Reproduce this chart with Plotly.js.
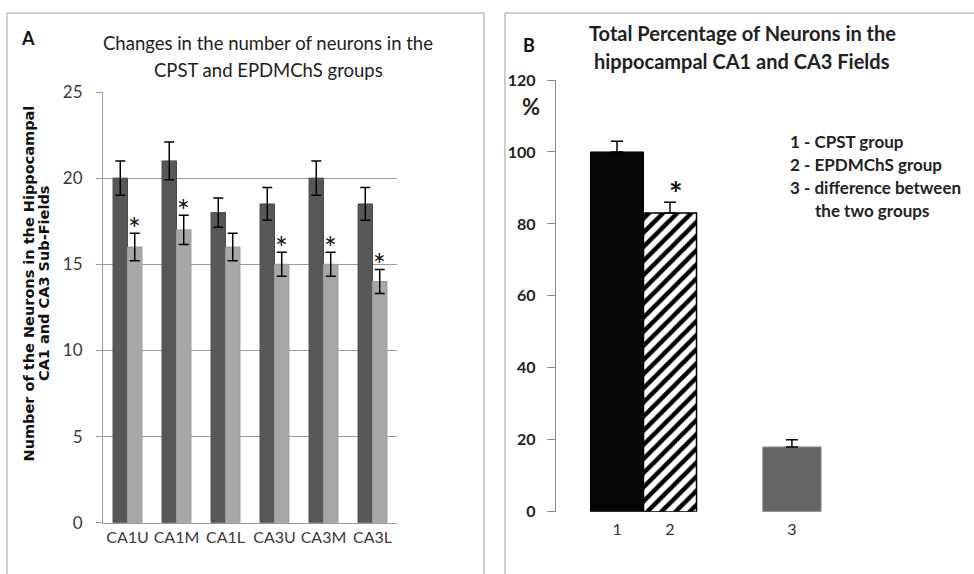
<!DOCTYPE html>
<html>
<head>
<meta charset="utf-8">
<script src="https://cdn.plot.ly/plotly-3.0.1.min.js"></script>
<style>html,body{margin:0;padding:0;background:#fff;}#chart{width:974px;height:574px;}</style>
</head>
<body>
<div id="chart"></div>
<script>
// ---- Panel A data ----
const fieldsA = ['CA1U', 'CA1M', 'CA1L', 'CA3U', 'CA3M', 'CA3L'];
const cpstA = [20, 21, 18, 18.5, 20, 18.5];
const cpstErrA = [1, 1.1, 0.85, 0.95, 1, 0.95];
const epdA = [16, 17, 16, 15, 15, 14];
const epdErrA = [0.8, 0.85, 0.8, 0.7, 0.7, 0.7];
const sigA = [true, true, false, true, true, true];
const titleA = ['Changes in the number of neurons in the', 'CPST and EPDMChS groups'];
const yTitleA = ['Number of the Neurons in the Hippocampal', 'CA1 and CA3 Sub-Fields'];

// ---- Panel B data ----
const labelsB = ['1', '2', '3'];
const valuesB = [100, 83, 18];
const errB = [3, 3, 2];
const sigB = [false, true, false];
const titleB = ['Total Percentage of Neurons in the', 'hippocampal CA1 and CA3 Fields'];
const legendB = ['1 - CPST group', '2 - EPDMChS group', '3 - difference between', 'the two groups'];

// ---- layout helpers (positions and styles, not data) ----
const W = 974, H = 574;
const px = v => v / W;
const py = v => (H - v) / H;
const slotB = [0, 1, 3.3];
const widthB = [1, 1, 1.1];
const styleB = [
  {color: '#070707', line: {color: '#000000', width: 1}},
  {color: '#ffffff', line: {color: '#000000', width: 1.5},
   pattern: {shape: '/', fgcolor: '#000000', bgcolor: '#ffffff', size: 10, solidity: 0.45, fillmode: 'replace'}},
  {color: '#646464', line: {color: '#8c8c8c', width: 1}}
];
const bargapA = 0.41;

const font = 'Lato, "Open Sans", "Noto Sans", sans-serif';
const wideFont = '"DejaVu Sans", Lato, sans-serif';

const traces = [
  {
    type: 'bar', x: fieldsA, y: cpstA, xaxis: 'x', yaxis: 'y', name: 'CPST',
    marker: {color: '#585858', line: {color: '#4a4a4a', width: 1}},
    error_y: {type: 'data', array: cpstErrA, visible: true, color: '#000', thickness: 1.5, width: 5},
    showlegend: false
  },
  {
    type: 'bar', x: fieldsA, y: epdA, xaxis: 'x', yaxis: 'y', name: 'EPDMChS',
    marker: {color: '#a7a7a7', line: {color: '#9a9a9a', width: 1}},
    error_y: {type: 'data', array: epdErrA, visible: true, color: '#000', thickness: 1.5, width: 5},
    showlegend: false
  }
];
labelsB.forEach((l, i) => {
  traces.push({
    type: 'bar', x: [slotB[i]], y: [valuesB[i]], width: [widthB[i]], offset: [-widthB[i] / 2],
    xaxis: 'x2', yaxis: 'y2', name: l, marker: styleB[i],
    error_y: {type: 'data', symmetric: false, array: [errB[i]], arrayminus: [0], visible: true,
      color: '#000', thickness: 1.5, width: 6},
    showlegend: false
  });
});

const annotations = [];
const ann = (o) => annotations.push(Object.assign({showarrow: false, xanchor: 'center', yanchor: 'middle'}, o));
// Panel letters and titles
ann({xref: 'paper', yref: 'paper', x: px(28), y: py(38), text: '<b>A</b>', font: {family: font, size: 18, color: '#111'}});
const titleAY = [43, 70];
titleA.forEach((t, i) => ann({xref: 'paper', yref: 'paper', x: px(268), y: py(titleAY[i]), text: t,
  font: {family: font, size: 18.5, color: '#1e1e1e'}}));
ann({xref: 'paper', yref: 'paper', x: px(529), y: py(45), text: '<b>B</b>', font: {family: font, size: 18, color: '#111'}});
const titleBY = [33, 61];
titleB.forEach((t, i) => ann({xref: 'paper', yref: 'paper', x: px(742), y: py(titleBY[i]), text: '<b>' + t + '</b>',
  font: {family: font, size: 20, color: '#222'}}));
ann({xref: 'paper', yref: 'paper', x: px(531), y: py(106), text: '<b>%</b>', font: {family: font, size: 22, color: '#222'}});
// Panel A y title (two rotated lines)
const yTitleX = [28.5, 44];
yTitleA.forEach((t, i) => ann({xref: 'paper', yref: 'paper', x: px(yTitleX[i]), y: py(284), textangle: -90,
  text: '<b>' + t + '</b>', font: {family: wideFont, size: 14.5, color: '#111'}}));
// Legend text for panel B
const legY = [142, 165, 187, 210];
const legX = [788, 788, 788, 813];
legendB.forEach((t, i) => {
  ann({xref: 'paper', yref: 'paper', x: px(legX[i]), y: py(legY[i]), xanchor: 'left',
    text: '<b>' + t + '</b>', font: {family: font, size: 17, color: '#222'}});
});
// Significance asterisks panel A (over EPDMChS bars)
const offA = (1 - bargapA) / 4;
fieldsA.forEach((f, i) => {
  if (sigA[i]) {
    ann({xref: 'x', yref: 'y', x: i + offA, y: epdA[i] + epdErrA[i], yanchor: 'bottom', yshift: -15,
      text: '*', font: {family: font, size: 30, color: '#111'}});
  }
});
// Significance asterisk panel B
labelsB.forEach((l, i) => {
  if (sigB[i]) {
    ann({xref: 'x2', yref: 'y2', x: slotB[i], y: valuesB[i] + errB[i], yanchor: 'bottom', yshift: -13, xshift: 6,
      text: '<b>*</b>', font: {family: font, size: 32, color: '#111'}});
  }
});

const layout = {
  width: W, height: H,
  margin: {l: 0, r: 0, t: 0, b: 0},
  paper_bgcolor: '#ffffff', plot_bgcolor: 'rgba(0,0,0,0)',
  barmode: 'group', bargap: bargapA, bargroupgap: 0,
  showlegend: false,
  font: {family: font},
  xaxis: {
    domain: [px(103), px(397)], anchor: 'y', type: 'category',
    showline: true, linecolor: '#9a9a9a', linewidth: 1, ticks: '', showgrid: false,
    tickfont: {family: font, size: 16, color: '#3a3a3a'}, fixedrange: true
  },
  yaxis: {
    domain: [py(522.7), py(92)], anchor: 'x', range: [0, 25], dtick: 5,
    showline: true, linecolor: '#9a9a9a', linewidth: 1, ticks: 'outside', ticklen: 6, tickcolor: '#9a9a9a',
    ticklabelstandoff: 10,
    showgrid: true, gridcolor: '#9a9a9a', gridwidth: 1, zeroline: false,
    tickfont: {family: font, size: 17, color: '#3a3a3a'}, fixedrange: true
  },
  xaxis2: {
    domain: [px(555.7), 1], anchor: 'y2', range: [-1.157, 6.736],
    tickvals: slotB, ticktext: labelsB, showline: false, showgrid: false, zeroline: false, ticks: '',
    ticklabelstandoff: 6,
    tickfont: {family: font, size: 16, color: '#333'}, fixedrange: true
  },
  yaxis2: {
    domain: [py(511.7), py(80)], anchor: 'x2', range: [0, 120], dtick: 20,
    showline: true, linecolor: '#8a8a8a', linewidth: 1, ticks: 'outside', ticklen: 8, tickcolor: '#8a8a8a',
    ticklabelstandoff: 8,
    showgrid: false, zeroline: false,
    tickfont: {family: font, size: 16, color: '#222', weight: 'bold'}, fixedrange: true
  },
  shapes: [
    {type: 'rect', xref: 'paper', yref: 'paper', x0: px(7), x1: px(484), y0: -0.05, y1: py(13),
      line: {color: '#9d9d9d', width: 1}, fillcolor: 'rgba(0,0,0,0)', layer: 'below'},
    {type: 'rect', xref: 'paper', yref: 'paper', x0: px(505), x1: 1.05, y0: -0.05, y1: py(13),
      line: {color: '#9d9d9d', width: 1}, fillcolor: 'rgba(0,0,0,0)', layer: 'below'}
  ],
  annotations: annotations
};

Plotly.newPlot('chart', traces, layout, {displayModeBar: false, staticPlot: true});
</script>
</body>
</html>
